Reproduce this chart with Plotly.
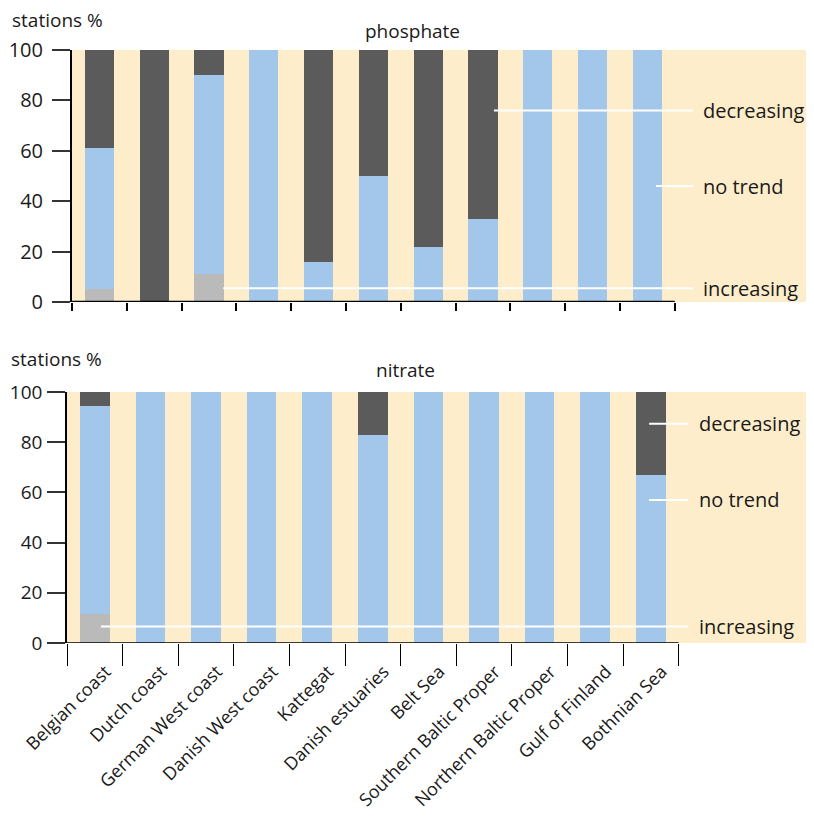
import plotly.graph_objects as go

# ---------------- data ----------------
regions = ["Belgian coast", "Dutch coast", "German West coast", "Danish West coast",
           "Kattegat", "Danish estuaries", "Belt Sea", "Southern Baltic Proper",
           "Northern Baltic Proper", "Gulf of Finland", "Bothnian Sea"]

phos_increasing = [5, 0, 11, 0, 0, 0, 0, 0, 0, 0, 0]
phos_notrend    = [56, 0, 79, 100, 16, 50, 22, 33, 100, 100, 100]
phos_decreasing = [39, 100, 10, 0, 84, 50, 78, 67, 0, 0, 0]

nit_increasing = [11.5, 0, 0, 0, 0, 0, 0, 0, 0, 0, 0]
nit_notrend    = [83, 100, 100, 100, 100, 83, 100, 100, 100, 100, 67]
nit_decreasing = [5.5, 0, 0, 0, 0, 17, 0, 0, 0, 0, 33]

y_ticks = [0, 20, 40, 60, 80, 100]

# ---------------- style ----------------
W, H = 814, 820
OFF = 8  # page body margin
CREAM = "#FDEDCA"
BLUE = "#A2C7EA"
DARK = "#5B5B5B"
LGRAY = "#BABABA"
TXT = "#1a1a1a"
FONT = "Open Sans"

def px(x):
    return (x - OFF) / W

def py(y):
    return 1 - (y - OFF) / H

x = list(range(len(regions)))
bounds = [i - 0.5 for i in range(len(regions) + 1)]

fig = go.Figure()

def add_bars(xa, ya, inc, nt, dec):
    for vals, col, name in [(inc, LGRAY, "increasing"), (nt, BLUE, "no trend"), (dec, DARK, "decreasing")]:
        fig.add_trace(go.Bar(x=x, y=vals, marker=dict(color=col, line=dict(width=0)),
                             width=0.53, name=name, xaxis=xa, yaxis=ya, showlegend=False,
                             hoverinfo="skip"))

add_bars("x", "y", phos_increasing, phos_notrend, phos_decreasing)
add_bars("x2", "y2", nit_increasing, nit_notrend, nit_decreasing)

yax_common = dict(range=[0, 100], tickvals=y_ticks, ticks="outside", ticklen=18,
                  tickwidth=1.5, tickcolor="#333", showline=True, linecolor="black",
                  showgrid=False, zeroline=False, automargin=False, fixedrange=True)

fig.update_layout(
    width=W, height=H, margin=dict(l=0, r=0, t=0, b=0, autoexpand=False),
    paper_bgcolor="white", plot_bgcolor=CREAM, barmode="stack", bargap=0,
    showlegend=False,
    xaxis=dict(domain=[px(72), px(814)], range=[-0.5, 13.04], anchor="y", automargin=False,
               tickvals=x, showticklabels=False, ticks="", showline=False,
               showgrid=False, zeroline=False,
               minor=dict(tickvals=bounds, ticks="outside", ticklen=8, tickwidth=2,
                          tickcolor="black", showgrid=False)),
    yaxis=dict(domain=[py(302), py(50)], anchor="x", linewidth=2, ticklabelstandoff=5,
               tickfont=dict(family=FONT, size=20, color=TXT), **yax_common),
    xaxis2=dict(domain=[px(67), px(814)], range=[-0.5, 12.935], anchor="y2", automargin=False,
                tickvals=x, ticktext=regions, tickangle=-45, ticks="outside",
                ticklen=10, tickcolor="rgba(0,0,0,0)", showline=False,
                showgrid=False, zeroline=False, ticklabelshift=11,
                tickfont=dict(family=FONT, size=18, color=TXT),
                minor=dict(tickvals=bounds, ticks="outside", ticklen=22, tickwidth=1.2,
                           tickcolor="black", showgrid=False)),
    yaxis2=dict(domain=[py(643), py(392)], anchor="x2", linewidth=1.5, ticklabelstandoff=1,
                tickfont=dict(family=FONT, size=19, color=TXT), **yax_common),
)

# x axis lines limited to category span
fig.add_shape(type="line", xref="x", yref="y", x0=-0.5, x1=10.5, y0=0, y1=0,
              line=dict(color="black", width=2.5))
fig.add_shape(type="line", xref="x2", yref="y2", x0=-0.5, x1=10.5, y0=0, y1=0,
              line=dict(color="black", width=1.5))

# white leader lines
leaders_top = [(2.26, 10.83, 5.5), (10.16, 10.83, 46), (7.2, 10.83, 76)]
leaders_bot = [(0.11, 10.67, 6.6), (9.97, 10.67, 57), (9.97, 10.67, 87.4)]
for x0, x1, yv in leaders_top:
    fig.add_shape(type="line", xref="x", yref="y", x0=x0, x1=x1, y0=yv, y1=yv,
                  line=dict(color="white", width=2), layer="above")
for x0, x1, yv in leaders_bot:
    fig.add_shape(type="line", xref="x2", yref="y2", x0=x0, x1=x1, y0=yv, y1=yv,
                  line=dict(color="white", width=2), layer="above")

labels = ["increasing", "no trend", "decreasing"]
for lab, (_, _, yv) in zip(labels, leaders_top):
    fig.add_annotation(text=lab, xref="paper", yref="y", x=px(701), y=yv, xanchor="left",
                       yanchor="middle", showarrow=False,
                       font=dict(family=FONT, size=20, color=TXT))
for lab, (_, _, yv) in zip(labels, leaders_bot):
    fig.add_annotation(text=lab, xref="paper", yref="y2", x=px(697), y=yv, xanchor="left",
                       yanchor="middle", showarrow=False,
                       font=dict(family=FONT, size=20, color=TXT))

# titles / axis captions
for txt, xx, yy, anc in [("stations %", 10, 20, "left"), ("phosphate", 412, 31, "center"),
                         ("stations %", 9, 359, "left"), ("nitrate", 405, 370, "center")]:
    fig.add_annotation(text=txt, xref="paper", yref="paper", x=px(xx), y=py(yy),
                       xanchor=anc, yanchor="middle", showarrow=False,
                       font=dict(family=FONT, size=19, color=TXT))

fig.write_html("out.html")
